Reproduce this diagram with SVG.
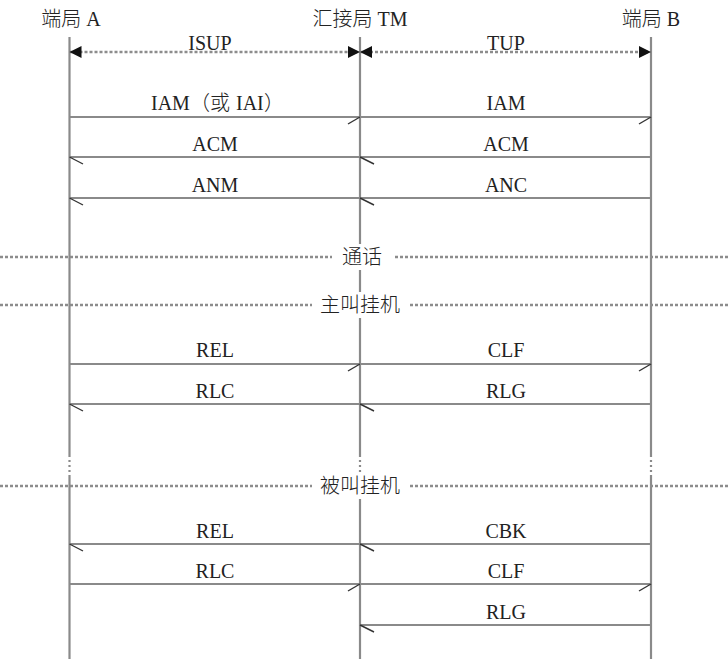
<svg xmlns="http://www.w3.org/2000/svg" width="728" height="659" viewBox="0 0 728 659">
<defs>
<style>
.life{stroke:#8a8a8a;stroke-width:2.2;fill:none}
.msg{stroke:#8a8a8a;stroke-width:2.2;fill:none}
.barb{stroke:#333;stroke-width:1.4;fill:none}
.dot{stroke:#8c8c8c;stroke-width:2.6;stroke-dasharray:3 2;fill:none}
.t{font-family:"Liberation Serif","Noto Sans CJK SC",serif;font-size:20px;fill:#222;text-anchor:middle}
.s{text-anchor:start}
.cjk{font-family:"Noto Sans CJK SC",sans-serif;font-weight:300}
.bg{fill:#fff}
</style>
<marker id="tri" viewBox="0 0 10 10" refX="10" refY="5" markerWidth="14" markerHeight="12" markerUnits="userSpaceOnUse" orient="auto-start-reverse">
<path d="M0,0 L10,5 L0,10 z" fill="#111"/>
</marker>
</defs>
<g id="headers">
<text class="t" x="71" y="26"><tspan class="cjk">端局</tspan> A</text>
<text class="t" x="360" y="26"><tspan class="cjk">汇接局</tspan> TM</text>
<text class="t" x="651" y="26"><tspan class="cjk">端局</tspan> B</text>
</g>
<g id="lifelines">
<g id="lifeline-A">
<line class="life" x1="69.5" y1="37" x2="69.5" y2="457"/>
<line class="life" x1="69.5" y1="460" x2="69.5" y2="475" stroke-dasharray="2 3"/>
<line class="life" x1="69.5" y1="475" x2="69.5" y2="659"/>
</g>
<g id="lifeline-TM">
<line class="life" x1="360" y1="37" x2="360" y2="457"/>
<line class="life" x1="360" y1="460" x2="360" y2="475" stroke-dasharray="2 3"/>
<line class="life" x1="360" y1="475" x2="360" y2="659"/>
</g>
<g id="lifeline-B">
<line class="life" x1="651" y1="37" x2="651" y2="457"/>
<line class="life" x1="651" y1="460" x2="651" y2="475" stroke-dasharray="2 3"/>
<line class="life" x1="651" y1="475" x2="651" y2="659"/>
</g>
</g>
<g id="phases">
<line class="dot" x1="0" y1="257" x2="728" y2="257"/>
<rect class="bg" x="332" y="244" width="62" height="26"/>
<text class="t cjk" x="362" y="264">通话</text>
<line class="dot" x1="0" y1="305" x2="728" y2="305"/>
<rect class="bg" x="312" y="292" width="96" height="26"/>
<text class="t cjk" x="360" y="312">主叫挂机</text>
<line class="dot" x1="0" y1="486" x2="728" y2="486"/>
<rect class="bg" x="312" y="473" width="96" height="26"/>
<text class="t cjk" x="360" y="493">被叫挂机</text>
</g>
<g id="protocols">
<line class="dot" x1="69.5" y1="52" x2="360" y2="52" marker-start="url(#tri)" marker-end="url(#tri)"/>
<line class="dot" x1="360" y1="52" x2="651" y2="52" marker-start="url(#tri)" marker-end="url(#tri)"/>
<rect class="bg" x="181" y="35" width="58" height="15"/>
<text class="t" x="210" y="50">ISUP</text>
<rect class="bg" x="481" y="35" width="50" height="15"/>
<text class="t" x="506" y="50">TUP</text>
</g>
<g id="connectors">
<g id="m1"><line class="msg" x1="69.5" y1="117" x2="360" y2="117"/><path class="barb" d="M360,117 L348,124"/>
<text class="t s" x="151" y="110">IAM</text><text class="t s cjk" x="190" y="110">（或</text><text class="t s" x="236" y="110">IAI</text><text class="t s cjk" x="264" y="110">）</text></g>
<g id="m1b"><line class="msg" x1="360" y1="117" x2="651" y2="117"/><path class="barb" d="M651,117 L639,124"/><text class="t" x="506" y="110">IAM</text></g>
<g id="m2"><line class="msg" x1="69.5" y1="157" x2="360" y2="157"/><path class="barb" d="M69.5,157 L83,164"/><text class="t" x="215" y="151">ACM</text></g>
<g id="m2b"><line class="msg" x1="360" y1="157" x2="651" y2="157"/><path class="barb" d="M360,157 L374,164"/><text class="t" x="506" y="151">ACM</text></g>
<g id="m3"><line class="msg" x1="69.5" y1="198" x2="360" y2="198"/><path class="barb" d="M69.5,198 L83,205"/><text class="t" x="215" y="192">ANM</text></g>
<g id="m3b"><line class="msg" x1="360" y1="198" x2="651" y2="198"/><path class="barb" d="M360,198 L374,205"/><text class="t" x="506" y="192">ANC</text></g>
<g id="m4"><line class="msg" x1="69.5" y1="364" x2="360" y2="364"/><path class="barb" d="M360,364 L348,371"/><text class="t" x="215" y="357">REL</text></g>
<g id="m4b"><line class="msg" x1="360" y1="364" x2="651" y2="364"/><path class="barb" d="M651,364 L639,371"/><text class="t" x="506" y="357">CLF</text></g>
<g id="m5"><line class="msg" x1="69.5" y1="404" x2="360" y2="404"/><path class="barb" d="M69.5,404 L83,411"/><text class="t" x="215" y="398">RLC</text></g>
<g id="m5b"><line class="msg" x1="360" y1="404" x2="651" y2="404"/><path class="barb" d="M360,404 L374,411"/><text class="t" x="506" y="398">RLG</text></g>
<g id="m6"><line class="msg" x1="69.5" y1="544" x2="360" y2="544"/><path class="barb" d="M69.5,544 L83,551"/><text class="t" x="215" y="538">REL</text></g>
<g id="m6b"><line class="msg" x1="360" y1="544" x2="651" y2="544"/><path class="barb" d="M360,544 L374,551"/><text class="t" x="506" y="538">CBK</text></g>
<g id="m7"><line class="msg" x1="69.5" y1="584" x2="360" y2="584"/><path class="barb" d="M360,584 L348,591"/><text class="t" x="215" y="578">RLC</text></g>
<g id="m7b"><line class="msg" x1="360" y1="584" x2="651" y2="584"/><path class="barb" d="M651,584 L639,591"/><text class="t" x="506" y="578">CLF</text></g>
<g id="m8"><line class="msg" x1="360" y1="625" x2="651" y2="625"/><path class="barb" d="M360,625 L374,632"/><text class="t" x="506" y="619">RLG</text></g>
</g>
</svg>
